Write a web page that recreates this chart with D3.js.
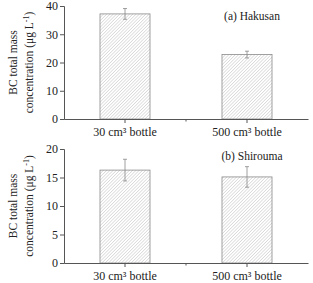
<!DOCTYPE html>
<html>
<head>
<meta charset="utf-8">
<script src="https://cdn.jsdelivr.net/npm/d3@7"></script>
<style>
  body { margin: 0; background: #fff; }
  text { font-family: "Liberation Serif", "Times New Roman", serif; fill: #222; }
</style>
</head>
<body>
<div id="container"></div>
<script>
const w = 313, h = 283;

// DATA
const categories = ["30 cm\u00b3 bottle", "500 cm\u00b3 bottle"];
const hakusanMeans = [37.2, 22.8];
const hakusanErrors = [1.9, 1.2];
const shiroumaMeans = [16.3, 15.1];
const shiroumaErrors = [1.9, 1.8];
const hakusanTicks = [0, 10, 20, 30, 40];
const shiroumaTicks = [0, 5, 10, 15, 20];

const chart = d3.select('#container')
                .append('svg')
                .attr('width', w)
                .attr('height', h);

// hatch pattern for bars
const defs = chart.append('defs');
defs.append('pattern')
    .attr('id', 'hatch')
    .attr('patternUnits', 'userSpaceOnUse')
    .attr('width', 2.3)
    .attr('height', 2.3)
    .attr('patternTransform', 'rotate(45)')
    .append('line')
    .attr('x1', 0).attr('y1', 0)
    .attr('x2', 0).attr('y2', 2.3)
    .attr('stroke', '#a8a8a8')
    .attr('stroke-width', 0.7);

const x = d3.scaleBand()
            .domain(categories)
            .range([64, 308])
            .padding(0);
const barW = x.bandwidth() * 0.41;

function panel(opts) {
  const y = d3.scaleLinear()
              .domain([0, opts.max])
              .range([opts.bottom, opts.top]);
  const g = chart.append('g');

  // bars
  g.selectAll('rect.bar')
   .data(opts.means).enter()
   .append('rect')
   .attr('class', 'bar')
   .attr('x', (d, i) => x(categories[i]) + x.bandwidth() / 2 - barW / 2)
   .attr('y', d => y(d))
   .attr('width', barW)
   .attr('height', d => y(0) - y(d))
   .attr('fill', 'url(#hatch)')
   .attr('stroke', '#8a8a8a')
   .attr('stroke-width', 0.8);

  // error bars
  const eb = g.selectAll('g.err')
              .data(opts.means).enter()
              .append('g')
              .attr('stroke', '#888')
              .attr('stroke-width', 0.8);
  const cx = (i) => x(categories[i]) + x.bandwidth() / 2;
  eb.append('line')
    .attr('x1', (d, i) => cx(i)).attr('x2', (d, i) => cx(i))
    .attr('y1', (d, i) => y(d + opts.errors[i]))
    .attr('y2', (d, i) => y(d - opts.errors[i]));
  eb.append('line')
    .attr('x1', (d, i) => cx(i) - 2).attr('x2', (d, i) => cx(i) + 2)
    .attr('y1', (d, i) => y(d + opts.errors[i]))
    .attr('y2', (d, i) => y(d + opts.errors[i]));
  eb.append('line')
    .attr('x1', (d, i) => cx(i) - 2).attr('x2', (d, i) => cx(i) + 2)
    .attr('y1', (d, i) => y(d - opts.errors[i]))
    .attr('y2', (d, i) => y(d - opts.errors[i]));

  // y axis
  const yAxis = d3.axisLeft(y)
                  .tickValues(opts.ticks)
                  .tickSize(4)
                  .tickPadding(2);
  const ya = g.append('g')
              .attr('transform', `translate(64,0)`)
              .call(yAxis);
  ya.select('.domain').attr('stroke', '#555');
  ya.selectAll('.tick line').attr('stroke', '#555');
  ya.selectAll('.tick text').style('font-size', '12px').attr('fill', '#222');

  // x axis
  const xAxis = d3.axisBottom(x)
                  .tickSize(4)
                  .tickPadding(4)
                  .tickSizeOuter(0);
  const xa = g.append('g')
              .attr('transform', `translate(0,${opts.bottom})`)
              .call(xAxis);
  xa.select('.domain').attr('stroke', '#555');
  xa.selectAll('.tick line').attr('stroke', '#555');
  xa.selectAll('.tick text').style('font-size', '12px').attr('fill', '#222');
  // minor tick at band edge
  xa.append('line')
    .attr('x1', x(categories[1])).attr('x2', x(categories[1]))
    .attr('y1', 0).attr('y2', 2.5)
    .attr('stroke', '#555');

  // panel label
  g.append('text')
   .attr('x', 252)
   .attr('y', opts.top + opts.labelDy)
   .attr('text-anchor', 'middle')
   .style('font-size', '11.5px')
   .text(opts.label);

  // y title
  const mid = (opts.top + opts.bottom) / 2;
  g.append('text')
   .attr('transform', `translate(17,${mid}) rotate(-90)`)
   .attr('text-anchor', 'middle')
   .style('font-size', '11.5px')
   .text('BC total mass');
  const t2 = g.append('text')
              .attr('transform', `translate(33,${mid}) rotate(-90)`)
              .attr('text-anchor', 'middle')
              .style('font-size', '11.5px');
  t2.append('tspan').text('concentration (\u03bcg L');
  t2.append('tspan').attr('dy', -4).style('font-size', '8px').text('-1');
  t2.append('tspan').attr('dy', 4).text(')');
}

panel({means: hakusanMeans, errors: hakusanErrors, ticks: hakusanTicks,
       max: 40, top: 6, bottom: 119, label: '(a) Hakusan', labelDy: 14});
panel({means: shiroumaMeans, errors: shiroumaErrors, ticks: shiroumaTicks,
       max: 20, top: 149, bottom: 263, label: '(b) Shirouma', labelDy: 11});
</script>
</body>
</html>
